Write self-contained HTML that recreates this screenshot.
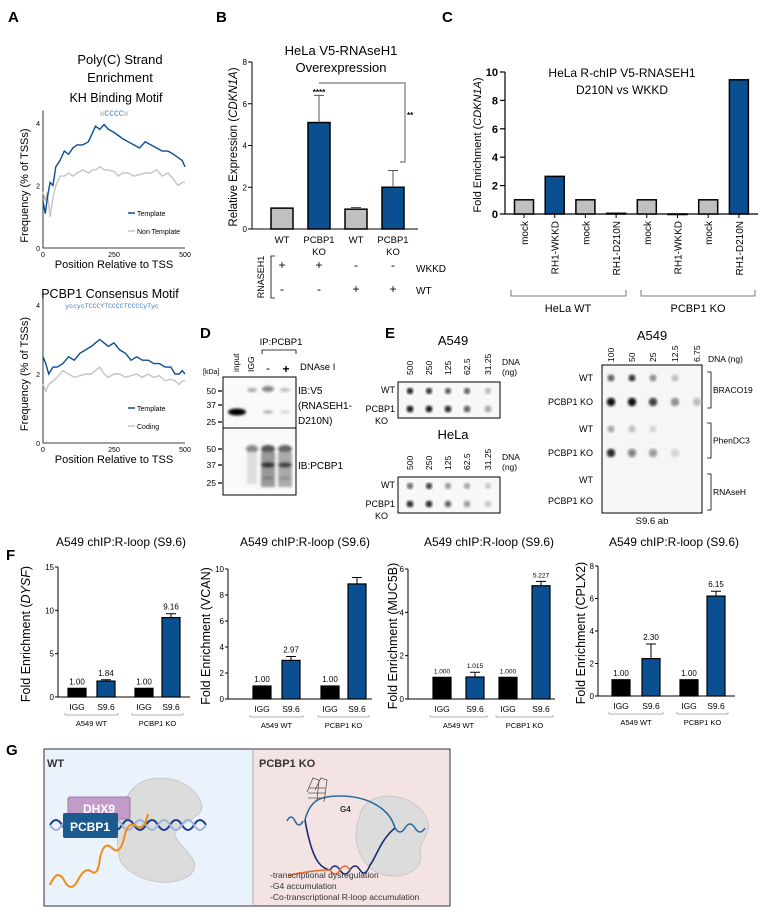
<!DOCTYPE html>
<html><head><meta charset="utf-8"><style>
body{margin:0;background:#fff}
svg{display:block;font-family:"Liberation Sans",sans-serif}
</style></head><body>
<svg id="fig" width="775" height="912" viewBox="0 0 775 912" xmlns="http://www.w3.org/2000/svg">
<defs>
<filter id="blur1"><feGaussianBlur stdDeviation="1.2"/></filter>
<filter id="blur2"><feGaussianBlur stdDeviation="2"/></filter>
</defs>
<g font-weight="bold" font-size="15">
<text x="8" y="22">A</text><text x="216" y="22">B</text><text x="442" y="22">C</text>
<text x="200" y="338">D</text><text x="385" y="338">E</text><text x="6" y="560">F</text><text x="6" y="755">G</text>
</g>
<g text-anchor="middle" font-size="13">
<text x="120" y="64">Poly(C) Strand</text><text x="120" y="82">Enrichment</text>
<text x="116" y="102" font-size="12.5">KH Binding Motif</text>
<text x="114" y="116" font-size="8" font-family="Liberation Mono,monospace"><tspan fill="#bbb">W</tspan><tspan fill="#3a7cc0">CCCC</tspan><tspan fill="#bbb">W</tspan></text>
<text x="110" y="298" font-size="12.5">PCBP1 Consensus Motif</text>
<text x="112" y="308" font-size="6.5" font-family="Liberation Mono,monospace" fill="#3a7cc0">yccycTCCCYTCCCCTCCCCyTyc</text>
</g>
<g id="panelA"></g>
<g id="panelB"></g>
<g id="panelC"></g>
<g font-size="9">
<text x="281" y="345" text-anchor="middle" font-size="9.5">IP:PCBP1</text>
<path d="M262 354 V350 H296 V354" fill="none" stroke="#000" stroke-width="0.8"/>
<text transform="translate(239,372) rotate(-90)" font-size="8.5">input</text>
<text transform="translate(254,372) rotate(-90)" font-size="8.5">IGG</text>
<text x="268" y="372" text-anchor="middle" font-size="12">-</text>
<text x="286" y="373" text-anchor="middle" font-size="12" font-weight="bold">+</text>
<text x="300" y="370" font-size="9.5">DNAse I</text>
<text x="203" y="374" font-size="7">[kDa]</text>
<rect x="223" y="377" width="73" height="51" fill="#fafafa" stroke="#000" stroke-width="1"/>
<rect x="223" y="428" width="73" height="67" fill="#fafafa" stroke="#000" stroke-width="1"/>
<g filter="url(#blur1)">
<ellipse cx="237" cy="412" rx="9" ry="3.5" fill="#000"/>
<ellipse cx="252" cy="390" rx="5" ry="2" fill="#aaa"/>
<ellipse cx="268" cy="389" rx="6" ry="3" fill="#888"/>
<ellipse cx="268" cy="412" rx="5" ry="1.6" fill="#aaa"/>
<ellipse cx="285" cy="390" rx="5" ry="2" fill="#bbb"/>
<ellipse cx="285" cy="412" rx="5" ry="1.4" fill="#ccc"/>
<ellipse cx="252" cy="449" rx="6" ry="4" fill="#888"/>
<rect x="247" y="452" width="10" height="32" fill="#ddd"/>
<ellipse cx="268" cy="449" rx="7" ry="4" fill="#555"/>
<rect x="261" y="452" width="14" height="35" fill="#999"/>
<ellipse cx="268" cy="465" rx="7" ry="3" fill="#333"/>
<ellipse cx="285" cy="449" rx="7" ry="4" fill="#666"/>
<rect x="278" y="452" width="14" height="35" fill="#aaa"/>
<ellipse cx="285" cy="465" rx="7" ry="3" fill="#444"/>
<ellipse cx="268" cy="478" rx="6" ry="1.5" fill="#777"/>
<ellipse cx="285" cy="478" rx="6" ry="1.5" fill="#888"/>
</g>
<g font-size="8.5" text-anchor="end">
<text x="216" y="394">50</text><text x="216" y="408">37</text><text x="216" y="425">25</text>
<text x="216" y="452">50</text><text x="216" y="468">37</text><text x="216" y="486">25</text>
</g>
<path d="M218 391h4M218 405h4M218 422h4M218 449h4M218 465h4M218 483h4" stroke="#000" stroke-width="1.2"/>
<g font-size="10"><text x="298" y="394">IB:V5</text><text x="298" y="409">(RNASEH1-</text><text x="298" y="424">D210N)</text><text x="298" y="469">IB:PCBP1</text></g>
</g>
<g id="panelE"></g>
<g id="panelF"></g>
<g>
<rect x="44" y="749" width="209" height="157" fill="#eaf2fb"/>
<rect x="253" y="749" width="197" height="157" fill="#f3e3e3"/>
<rect x="44" y="749" width="406" height="157" fill="none" stroke="#333" stroke-width="1"/>
<line x1="253" y1="749" x2="253" y2="906" stroke="#aab" stroke-width="1"/>
<text x="47" y="767" font-weight="bold" font-size="11" fill="#333">WT</text>
<text x="259" y="767" font-weight="bold" font-size="11" fill="#333">PCBP1 KO</text>
<path d="M125 805 C130 770,185 770,200 800 C210 820,175 820,175 835 C180 850,205 860,190 875 C170 890,130 880,120 860 C115 840,118 820,125 805Z" fill="#dcdcdc" stroke="#c8c8c8"/>
<path d="M50 825 q6 -10 12 0 t12 0 t12 0 t12 0 t12 0 t12 0 t12 0 t12 0 t12 0 t12 0 t12 0 t12 0 t12 0" fill="none" stroke="#1a3d8a" stroke-width="2"/>
<path d="M50 825 q6 10 12 0 t12 0 t12 0 t12 0 t12 0 t12 0 t12 0 t12 0 t12 0 t12 0 t12 0 t12 0 t12 0" fill="none" stroke="#9db3d8" stroke-width="2"/>
<path d="M50 885 Q57 868 64 880 Q71 894 78 880 Q85 866 92 872 Q98 876 100 858 Q104 840 112 848 Q120 856 124 838 Q128 820 136 826 Q144 832 148 814" fill="none" stroke="#f08c1a" stroke-width="2"/>
<rect x="68" y="797" width="62" height="22" rx="2" fill="#c39bc9" stroke="#a07aa8"/>
<text x="99" y="813" text-anchor="middle" font-weight="bold" font-size="12" fill="#fff">DHX9</text>
<rect x="63" y="813" width="55" height="25" rx="2" fill="#1b5a8e"/>
<text x="90" y="831" text-anchor="middle" font-weight="bold" font-size="12" fill="#fff">PCBP1</text>
<path d="M360 815 C365 790,410 790,425 815 C435 830,420 840,420 850 C425 865,410 880,385 875 C360 870,350 840,360 815Z" fill="#dcdcdc" stroke="#c8c8c8"/>
<path d="M287 821 q4 -8 8 0 t8 0 M305 820 C310 800,320 796,340 796 C370 796,390 810,395 828 q5 8 10 0 t10 0 t10 0" fill="none" stroke="#2a6aa0" stroke-width="1.6"/>
<path d="M305 820 C312 860,320 868,330 870 q5 -8 10 0 t10 0 t10 0 t10 -5 C375 860,380 840,395 828" fill="none" stroke="#1a2d70" stroke-width="1.6"/>
<path d="M288 876 C300 872,320 870,330 870 q5 8 10 0 t10 0" fill="none" stroke="#f06a2a" stroke-width="1.6"/>
<g fill="none" stroke="#555" stroke-width="0.8"><path d="M307 792 l6 -14 l6 2 l-2 20 M315 790 l6 -12 l6 2 l-3 22"/><path d="M308 798h18M308 793h18M309 788h16"/></g>
<text x="340" y="812" font-size="8" font-weight="bold" fill="#333">G4</text>
<g font-size="8.5" fill="#333"><text x="270" y="878">-transcriptional dysregulation</text><text x="270" y="889">-G4 accumulation</text><text x="270" y="900">-Co-transcriptional R-loop accumulation</text></g>
</g>
</svg>
<script>
const aPositions1 = [0,8,15,25,35,45,60,75,90,105,120,140,160,175,185,200,215,230,250,265,280,300,320,340,360,380,400,420,440,460,475,490,500];
const aTemplate1   = [1.5,1.1,1.6,2.1,2.0,2.6,2.8,3.1,3.0,3.2,3.3,3.3,3.4,3.7,3.9,3.8,3.95,3.8,3.7,3.6,3.5,3.4,3.3,3.2,3.4,3.3,3.2,3.1,3.1,3.0,2.9,2.8,2.6];
const aNonTemplate1= [1.8,1.5,1.8,1.0,1.6,2.0,2.3,2.3,2.4,2.3,2.4,2.5,2.4,2.5,2.5,2.6,2.5,2.5,2.45,2.3,2.4,2.4,2.3,2.35,2.4,2.4,2.5,2.3,2.4,2.2,2.0,2.1,2.1];
const aPositions2 = [0,10,20,35,50,70,90,110,130,150,170,185,200,215,230,250,270,290,310,330,350,370,390,410,430,450,465,480,490,500];
const aTemplate2  = [2.5,2.3,2.0,2.2,2.2,2.3,2.5,2.4,2.6,2.7,2.8,2.9,3.0,2.9,2.8,2.9,2.7,2.6,2.4,2.5,2.4,2.4,2.3,2.3,2.2,2.2,2.0,2.0,2.1,2.0];
const aCoding2    = [1.7,1.5,1.7,1.8,1.9,2.1,2.0,1.9,1.95,2.0,2.0,2.1,2.2,2.0,1.9,2.0,2.0,1.9,1.95,2.0,1.9,2.0,1.9,1.95,1.8,1.85,1.8,1.7,1.8,1.8];
const aYTicks = [0,2,4];
const aXTicks = [0,250,500];
const bCategories = ["WT","PCBP1|KO","WT","PCBP1|KO"];
const bValues = [1.0,5.1,0.95,2.0];
const bErrors = [0.0,1.3,0.08,0.8];
const bColors = ["#c0c0c0","#0b4f93","#c0c0c0","#0b4f93"];
const bYTicks = [0,2,4,6,8];
const bWKKD = ["+","+","-","-"];
const bWT = ["-","-","+","+"];
const cCategories = ["mock","RH1-WKKD","mock","RH1-D210N","mock","RH1-WKKD","mock","RH1-D210N"];
const cValues = [1.0,2.65,1.0,0.05,1.0,0.0,1.0,9.45];
const cColors = ["#c0c0c0","#0b4f93","#c0c0c0","#0b4f93","#c0c0c0","#0b4f93","#c0c0c0","#0b4f93"];
const cYTicks = [0,2,4,6,8,10];
const eDoses1 = ["500","250","125","62.5","31.25"];
const eA549WT = [0.9,0.8,0.6,0.6,0.2];
const eA549KO = [0.95,0.95,0.85,0.6,0.3];
const eHeLaWT = [0.55,0.75,0.35,0.3,0.15];
const eHeLaKO = [0.85,0.85,0.6,0.35,0.15];
const eDoses2 = ["100","50","25","12.5","6.75"];
const eBracoWT = [0.6,0.8,0.4,0.2,0.0];
const eBracoKO = [1.0,1.0,0.75,0.4,0.2];
const ePhenWT = [0.3,0.2,0.1,0.0,0.0];
const ePhenKO = [0.85,0.45,0.35,0.1,0.0];
const eRnaseWT = [0,0,0,0,0];
const eRnaseKO = [0,0,0,0,0];
const fGenes = ["DYSF","VCAN","MUC5B","CPLX2"];
const fCategories = ["IGG","S9.6","IGG","S9.6"];
const fDYSF = [1.00,1.84,1.00,9.16];
const fVCAN = [1.00,2.97,1.00,8.85];
const fMUC5B = [1.000,1.015,1.000,5.227];
const fCPLX2 = [1.00,2.30,1.00,6.15];
const fErrDYSF = [0,0.15,0,0.45];
const fErrVCAN = [0,0.3,0,0.5];
const fErrMUC5B = [0,0.22,0,0.2];
const fErrCPLX2 = [0,0.9,0,0.3];
const fLabDYSF = ["1.00","1.84","1.00","9.16"];
const fLabVCAN = ["1.00","2.97","1.00",""];
const fLabMUC5B = ["1.000","1.015","1.000","5.227"];
const fLabCPLX2 = ["1.00","2.30","1.00","6.15"];
const fTicksDYSF = [0,5,10,15];
const fTicksVCAN = [0,2,4,6,8,10];
const fTicksMUC5B = [0,2,4,6];
const fTicksCPLX2 = [0,2,4,6,8];

const NS="http://www.w3.org/2000/svg";
function mk(parent,tag,attrs,text){const e=document.createElementNS(NS,tag);for(const k in attrs)e.setAttribute(k,attrs[k]);if(text!==undefined)e.textContent=text;parent.appendChild(e);return e;}
function lin(d0,d1,r0,r1){return v=>r0+(v-d0)/(d1-d0)*(r1-r0);}

(function(){
 const g=document.getElementById('panelA');
 function plot(y0,yTop4,pos,s1,s2,leg2,legY){
  const xs=lin(0,500,43,185), ys=lin(0,4,y0,yTop4);
  mk(g,'path',{d:`M43 ${ys(4.4)} V${y0} H185`,fill:'none',stroke:'#000','stroke-width':0.8});
  aYTicks.forEach(t=>{const tx=mk(g,'text',{x:40,y:ys(t)+3,'font-size':7,'text-anchor':'end'},t);});
  aXTicks.forEach(t=>{const tx=mk(g,'text',{x:xs(t),y:y0+9,'font-size':7,'text-anchor':'middle'},t);});
  [[s2,'#c4c4c4','non-template-line'],[s1,'#0b4f93','template-line']].forEach(([s,c,n])=>{
   const p=mk(g,'path',{d:'M'+s.map((v,i)=>xs(pos[i]).toFixed(1)+' '+ys(v).toFixed(1)).join(' L'),fill:'none',stroke:c,'stroke-width':1.4});
   });
  mk(g,'line',{x1:128,x2:135,y1:legY-3,y2:legY-3,stroke:'#0b4f93','stroke-width':1.5});
  mk(g,'text',{x:137,y:legY,'font-size':7},'Template');
  mk(g,'line',{x1:128,x2:135,y1:legY+15,y2:legY+15,stroke:'#c4c4c4','stroke-width':1.5});
  mk(g,'text',{x:137,y:legY+18,'font-size':7},leg2);
  mk(g,'text',{x:114,y:y0+20,'font-size':11,'text-anchor':'middle'},'Position Relative to TSS');
  mk(g,'text',{transform:`translate(28,${(y0+yTop4)/2}) rotate(-90)`,'font-size':11,'text-anchor':'middle'},'Frequency (% of TSSs)');
 }
 plot(248,123,aPositions1,aTemplate1,aNonTemplate1,'Non Template',216);
 plot(443,305,aPositions2,aTemplate2,aCoding2,'Coding',411);
})();

(function(){
 const g=document.getElementById('panelB');
 const ys=lin(0,8,229,62); const xs=[282,319,356,393];
 mk(g,'text',{x:341,y:55,'font-size':13,'text-anchor':'middle'},'HeLa V5-RNAseH1');
 mk(g,'text',{x:341,y:72,'font-size':13,'text-anchor':'middle'},'Overexpression');
 mk(g,'path',{d:`M252 ${ys(8)} V229 H418`,fill:'none',stroke:'#000','stroke-width':1});
 bYTicks.forEach(t=>{mk(g,'line',{x1:248,x2:252,y1:ys(t),y2:ys(t),stroke:'#000'});const tx=mk(g,'text',{x:247,y:ys(t)+3,'font-size':8,'text-anchor':'end'},t);});
 const yl=mk(g,'text',{transform:'translate(237,147) rotate(-90)','font-size':11.5,'text-anchor':'middle'});
 yl.innerHTML='Relative Expression (<tspan font-style="italic">CDKN1A</tspan>)';
 bValues.forEach((v,i)=>{
  const b=mk(g,'rect',{x:xs[i]-11,y:ys(v),width:22,height:229-ys(v),fill:bColors[i],stroke:'#000','stroke-width':1.5});
  
  if(bErrors[i]>0){mk(g,'path',{d:`M${xs[i]} ${ys(v)} V${ys(v+bErrors[i])} M${xs[i]-5} ${ys(v+bErrors[i])} H${xs[i]+5}`,stroke:'#555','stroke-width':1});}
  const parts=bCategories[i].split('|');
  parts.forEach((p,k)=>mk(g,'text',{x:xs[i],y:243+k*12,'font-size':9.5,'text-anchor':'middle'},p));
  mk(g,'text',{x:xs[i],y:269,'font-size':12,'text-anchor':'middle'},bWKKD[i]);
  mk(g,'text',{x:xs[i],y:293,'font-size':12,'text-anchor':'middle'},bWT[i]);
 });
 mk(g,'path',{d:'M275 256 H271 V298 H275',fill:'none',stroke:'#000','stroke-width':0.8});
 mk(g,'text',{transform:'translate(264,277) rotate(-90)','font-size':9,'text-anchor':'middle'},'RNASEH1');
 mk(g,'text',{x:416,y:272,'font-size':10},'WKKD');
 mk(g,'text',{x:416,y:294,'font-size':10},'WT');
 mk(g,'path',{d:`M${xs[1]} 83 H405 V162 H400`,fill:'none',stroke:'#777','stroke-width':1.2});
 mk(g,'text',{x:xs[1],y:95,'font-size':8,'text-anchor':'middle','font-weight':'bold'},'****');
 mk(g,'text',{x:407,y:118,'font-size':8,'font-weight':'bold'},'**');
})();

(function(){
 const g=document.getElementById('panelC');
 const ys=lin(0,10,214,72); const x0=524, step=30.7;
 mk(g,'text',{x:622,y:77,'font-size':12,'text-anchor':'middle'},'HeLa R-chIP V5-RNASEH1');
 mk(g,'text',{x:622,y:94,'font-size':12,'text-anchor':'middle'},'D210N vs WKKD');
 mk(g,'path',{d:`M505 ${ys(10)} V214 H758`,fill:'none',stroke:'#000','stroke-width':1.2});
 cYTicks.forEach(t=>{mk(g,'line',{x1:500,x2:505,y1:ys(t),y2:ys(t),stroke:'#000','stroke-width':1.2});const tx=mk(g,'text',{x:498,y:ys(t)+4,'font-size':11,'font-weight':'bold','text-anchor':'end'},t);});
 const yl=mk(g,'text',{transform:'translate(481,145) rotate(-90)','font-size':11,'text-anchor':'middle'});
 yl.innerHTML='Fold Enrichment (<tspan font-style="italic">CDKN1A</tspan>)';
 cValues.forEach((v,i)=>{
  const x=x0+i*step;
  const b=mk(g,'rect',{x:x-9.5,y:ys(v),width:19,height:Math.max(214-ys(v),0.5),fill:cColors[i],stroke:'#000','stroke-width':1.5});
  
  mk(g,'line',{x1:x,x2:x,y1:214,y2:218,stroke:'#000'});
  mk(g,'text',{transform:`translate(${x+4},221) rotate(-90)`,'font-size':10,'text-anchor':'end'},cCategories[i]);
 });
 mk(g,'path',{d:'M511 290 V296 H626 V290 M641 290 V296 H755 V290',fill:'none',stroke:'#555','stroke-width':0.8});
 mk(g,'text',{x:568,y:312,'font-size':11,'text-anchor':'middle'},'HeLa WT');
 mk(g,'text',{x:698,y:312,'font-size':11,'text-anchor':'middle'},'PCBP1 KO');
})();

(function(){
 const g=document.getElementById('panelE');
 function dot(x,y,v,r){if(v<=0.02)return;const c=Math.round(235-225*v);const d=mk(g,'circle',{cx:x,cy:y,r:r,fill:`rgb(${c},${c},${c})`,filter:'url(#blur1)'});}
 function small(yBox,title,ty,rowWT,rowKO){
  mk(g,'text',{x:453,y:ty,'font-size':13,'text-anchor':'middle'},title);
  const cx=[410,429,448,467,488];
  eDoses1.forEach((d,i)=>mk(g,'text',{transform:`translate(${cx[i]+3},${yBox-7}) rotate(-90)`,'font-size':8.5},d));
  mk(g,'text',{x:502,y:yBox-17,'font-size':8.5},'DNA');
  mk(g,'text',{x:502,y:yBox-7,'font-size':8.5},'(ng)');
  mk(g,'rect',{x:398,y:yBox,width:102,height:36,fill:'#f8f8f8',stroke:'#000','stroke-width':1});
  rowWT.forEach((v,i)=>dot(cx[i],yBox+9,v,3.2));
  rowKO.forEach((v,i)=>dot(cx[i],yBox+27,v,3.4));
  mk(g,'text',{x:395,y:yBox+11,'font-size':9,'text-anchor':'end'},'WT');
  mk(g,'text',{x:395,y:yBox+30,'font-size':9,'text-anchor':'end'},'PCBP1');
  mk(g,'text',{x:388,y:yBox+42,'font-size':9,'text-anchor':'end'},'KO');
 }
 small(382,'A549',345,eA549WT,eA549KO);
 small(477,'HeLa',439,eHeLaWT,eHeLaKO);
 mk(g,'text',{x:652,y:340,'font-size':13,'text-anchor':'middle'},'A549');
 const cx=[611,632,653,675,697];
 eDoses2.forEach((d,i)=>mk(g,'text',{transform:`translate(${cx[i]+3},362) rotate(-90)`,'font-size':8.5},d));
 mk(g,'text',{x:708,y:362,'font-size':8.5},'DNA (ng)');
 mk(g,'rect',{x:602,y:365,width:100,height:148,fill:'#f6f6f6',stroke:'#000','stroke-width':1});
 const rows=[[eBracoWT,378,'WT'],[eBracoKO,402,'PCBP1 KO'],[ePhenWT,429,'WT'],[ePhenKO,453,'PCBP1 KO'],[eRnaseWT,480,'WT'],[eRnaseKO,501,'PCBP1 KO']];
 rows.forEach(([arr,y,lab])=>{arr.forEach((v,i)=>dot(cx[i],y,v,lab==='WT'?3.5:4.2));mk(g,'text',{x:593,y:y+3,'font-size':9,'text-anchor':'end'},lab);});
 [[372,408,'BRACO19'],[423,458,'PhenDC3'],[474,510,'RNAseH']].forEach(([a,b,l])=>{
  mk(g,'path',{d:`M707 ${a} H711 V${b} H707`,fill:'none',stroke:'#000','stroke-width':0.8});
  mk(g,'text',{x:713,y:(a+b)/2+3,'font-size':8.5},l);});
 mk(g,'text',{x:652,y:524,'font-size':9.5,'text-anchor':'middle'},'S9.6 ab');
})();

(function(){
 const g=document.getElementById('panelF');
 const charts=[
  {gene:fGenes[0],vals:fDYSF,err:fErrDYSF,lab:fLabDYSF,ticks:fTicksDYSF,ax:58,xs:[77,106,144,171],xe:190,y0:697,yt:567,tx:121,ylx:30,italic:true},
  {gene:fGenes[1],vals:fVCAN,err:fErrVCAN,lab:fLabVCAN,ticks:fTicksVCAN,ax:228,xs:[262,291,330,357],xe:372,y0:699,yt:569,tx:305,ylx:210,italic:false},
  {gene:fGenes[2],vals:fMUC5B,err:fErrMUC5B,lab:fLabMUC5B,ticks:fTicksMUC5B,ax:408,xs:[442,475,508,541],xe:555,y0:699,yt:569,tx:489,ylx:397,italic:false},
  {gene:fGenes[3],vals:fCPLX2,err:fErrCPLX2,lab:fLabCPLX2,ticks:fTicksCPLX2,ax:598,xs:[621,651,689,716],xe:735,y0:696,yt:566,tx:674,ylx:585,italic:false}];
 charts.forEach((c,ci)=>{
  const max=c.ticks[c.ticks.length-1]; const ys=lin(0,max,c.y0,c.yt);
  mk(g,'text',{x:c.tx,y:546,'font-size':12,'text-anchor':'middle'},'A549 chIP:R-loop (S9.6)');
  mk(g,'path',{d:`M${c.ax} ${c.yt} V${c.y0} H${c.xe}`,fill:'none',stroke:'#000','stroke-width':1});
  c.ticks.forEach(t=>{mk(g,'line',{x1:c.ax-3,x2:c.ax,y1:ys(t),y2:ys(t),stroke:'#000'});const tx=mk(g,'text',{x:c.ax-4,y:ys(t)+3,'font-size':8,'text-anchor':'end'},t);});
  const yl=mk(g,'text',{transform:`translate(${c.ylx},${(c.y0+c.yt)/2+2}) rotate(-90)`,'font-size':12.5,'text-anchor':'middle'});
  yl.innerHTML='Fold Enrichment ('+(c.italic?'<tspan font-style="italic">'+c.gene+'</tspan>':c.gene)+')';
  c.vals.forEach((v,i)=>{
   const x=c.xs[i]; const col=(i%2===0)?'#000':'#0b4f93';
   const b=mk(g,'rect',{x:x-9,y:ys(v),width:18,height:c.y0-ys(v),fill:col,stroke:'#000','stroke-width':1.2});
   
   if(c.err[i]>0)mk(g,'path',{d:`M${x} ${ys(v)} V${ys(v+c.err[i])} M${x-5} ${ys(v+c.err[i])} H${x+5}`,stroke:'#000','stroke-width':1});
   if(c.lab[i])mk(g,'text',{x:x,y:ys(v+c.err[i])-4,'font-size':c.lab[i].length>4?6.5:8,'text-anchor':'middle'},c.lab[i]);
   mk(g,'text',{x:x,y:c.y0+13,'font-size':8.5,'text-anchor':'middle'},fCategories[i]);
  });
  const yb=c.y0+18;
  mk(g,'path',{d:`M${c.xs[0]-12} ${yb-2} V${yb} H${c.xs[1]+12} V${yb-2} M${c.xs[2]-12} ${yb-2} V${yb} H${c.xs[3]+12} V${yb-2}`,fill:'none',stroke:'#999','stroke-width':0.7});
  mk(g,'text',{x:(c.xs[0]+c.xs[1])/2,y:yb+11,'font-size':7.5,'text-anchor':'middle'},'A549 WT');
  mk(g,'text',{x:(c.xs[2]+c.xs[3])/2,y:yb+11,'font-size':7.5,'text-anchor':'middle'},'PCBP1 KO');
 });
})();
</script>
</body></html>
